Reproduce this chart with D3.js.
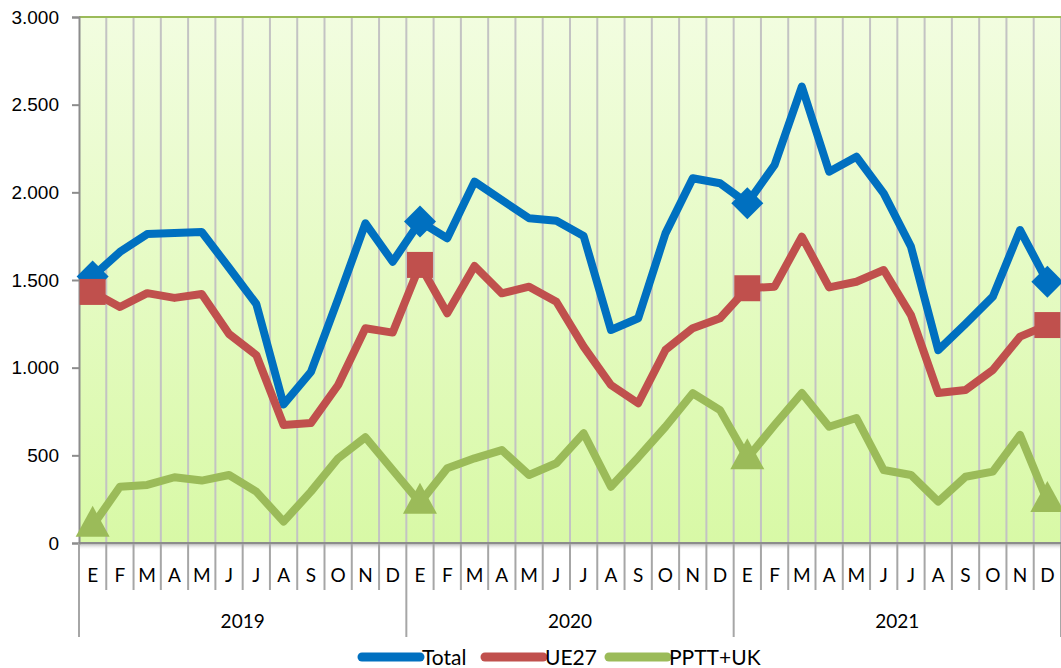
<!DOCTYPE html>
<html>
<head>
<meta charset="utf-8">
<script src="https://cdn.jsdelivr.net/npm/d3@7"></script>
<style>
  body { margin: 0; background: #fff; }
  svg { display: block; font-family: Lato, "Open Sans", sans-serif; }
</style>
</head>
<body>
<svg width="1061" height="668"></svg>
<script>
var years = ["2019", "2020", "2021"];
var months = ["E", "F", "M", "A", "M", "J", "J", "A", "S", "O", "N", "D"];
var yTicks = [0, 500, 1000, 1500, 2000, 2500, 3000];

var total = [1520, 1660, 1762, 1768, 1774, 1570, 1363, 790, 975, 1392, 1823, 1604,
             1833, 1738, 2061, 1956, 1852, 1838, 1751, 1215, 1282, 1766, 2080, 2052,
             1938, 2156, 2603, 2118, 2203, 1994, 1690, 1100, 1250, 1405, 1785, 1490];
var ue27 = [1432, 1346, 1425, 1398, 1420, 1192, 1072, 673, 684, 901, 1225, 1200,
            1586, 1310, 1580, 1424, 1462, 1376, 1120, 901, 797, 1101, 1225, 1282,
            1453, 1462, 1747, 1458, 1490, 1557, 1300, 855, 873, 987, 1177, 1243];
var pptt = [98, 321, 331, 375, 356, 388, 293, 122, 293, 483, 603, 416,
            230, 426, 483, 530, 388, 455, 626, 321, 488, 663, 854, 758,
            483, 673, 855, 663, 713, 416, 388, 236, 378, 407, 616, 240];
var markerIdx = [0, 12, 24, 35];

var series = [
  {name: "Total", values: total, color: "#0070c0", marker: "diamond"},
  {name: "UE27", values: ue27, color: "#c0504d", marker: "square"},
  {name: "PPTT+UK", values: pptt, color: "#9bbb59", marker: "triangle"}
];

var svg = d3.select("svg"),
    left = 79, right = 1061, plotTop = 17, bottom = 543;

var labels = [];
years.forEach(y => months.forEach((m, i) => labels.push(y + "-" + i)));

var x = d3.scaleBand().domain(labels).range([left, right]);
var y = d3.scaleLinear().domain([0, 3000]).range([bottom, plotTop]);
var fmt = d3.formatLocale({decimal: ",", thousands: ".", grouping: [3]}).format(",");

var defs = svg.append("defs");
var grad = defs.append("linearGradient").attr("id", "bg")
    .attr("x1", 0).attr("y1", 0).attr("x2", 0).attr("y2", 1);
grad.append("stop").attr("offset", "0%").attr("stop-color", "#f2fde0");
grad.append("stop").attr("offset", "100%").attr("stop-color", "#d8f9a6");
var sh = defs.append("linearGradient").attr("id", "shadow")
    .attr("x1", 0).attr("y1", 0).attr("x2", 0).attr("y2", 1);
sh.append("stop").attr("offset", "0%").attr("stop-color", "#bbb");
sh.append("stop").attr("offset", "100%").attr("stop-color", "#fff").attr("stop-opacity", 0);
defs.append("clipPath").attr("id", "clip").append("rect")
    .attr("x", left - 20).attr("y", 0).attr("width", right - left + 40).attr("height", bottom + 20);

svg.append("rect").attr("x", left).attr("y", plotTop)
    .attr("width", right - left).attr("height", bottom - plotTop).attr("fill", "url(#bg)");

// vertical gridlines
var step = x.step();
svg.append("g").selectAll("line")
  .data(d3.range(1, 37))
  .enter().append("line")
    .attr("x1", i => left + i * step).attr("x2", i => left + i * step)
    .attr("y1", plotTop).attr("y2", bottom)
    .attr("stroke", "#c3c3c3").attr("stroke-width", 2);

// top border
svg.append("line").attr("x1", left).attr("x2", right).attr("y1", plotTop).attr("y2", plotTop)
    .attr("stroke", "#9bbb59").attr("stroke-width", 2);

// shadow under axis
svg.append("rect").attr("x", left).attr("y", bottom + 1).attr("width", right - left).attr("height", 6)
    .attr("fill", "url(#shadow)");

// y axis
var yAxis = svg.append("g").attr("transform", "translate(" + left + ",0)")
    .call(d3.axisLeft(y).tickValues(yTicks).tickFormat(fmt).tickSize(7).tickPadding(13));
yAxis.select(".domain").attr("stroke", "#8c8c8c").attr("stroke-width", 2);
yAxis.selectAll(".tick line").attr("stroke", "#8c8c8c").attr("stroke-width", 2);
yAxis.selectAll("text").attr("font-size", 19).attr("fill", "#000");

// x axis: month separators and year separators
svg.append("g").selectAll("line")
  .data(d3.range(0, 37))
  .enter().append("line")
    .attr("x1", i => left + i * step).attr("x2", i => left + i * step)
    .attr("y1", bottom).attr("y2", i => i % 12 === 0 ? 637 : 590)
    .attr("stroke", "#a6a6a6").attr("stroke-width", 2);
svg.append("line").attr("x1", left).attr("x2", right).attr("y1", bottom).attr("y2", bottom)
    .attr("stroke", "#8c8c8c").attr("stroke-width", 2);

svg.append("g").selectAll("text")
  .data(labels)
  .enter().append("text")
    .attr("x", d => x(d) + x.bandwidth() / 2)
    .attr("y", 582)
    .attr("text-anchor", "middle")
    .attr("font-size", 19)
    .text((d, i) => months[i % 12]);

svg.append("g").selectAll("text")
  .data(years)
  .enter().append("text")
    .attr("x", (d, i) => left + (i * 12 + 6) * step)
    .attr("y", 628)
    .attr("text-anchor", "middle")
    .attr("font-size", 19)
    .text(d => d);

// lines
var line = d3.line()
    .x((d, i) => x(labels[i]) + x.bandwidth() / 2)
    .y(d => y(d));

var plot = svg.append("g").attr("clip-path", "url(#clip)");
series.forEach(s => {
  plot.append("path")
    .datum(s.values)
    .attr("d", line)
    .attr("fill", "none")
    .attr("stroke", s.color)
    .attr("stroke-width", 8)
    .attr("stroke-linejoin", "round")
    .attr("stroke-linecap", "round");
});

var shapes = {
  diamond: "M0,-16L16,0L0,16L-16,0Z",
  square: "M-13,-13H13V13H-13Z",
  triangle: "M0,-20L17,11H-17Z"
};
series.forEach(s => {
  plot.append("g").selectAll("path")
    .data(markerIdx)
    .enter().append("path")
      .attr("transform", i => "translate(" + (x(labels[i]) + x.bandwidth() / 2) + "," + y(s.values[i]) + ")")
      .attr("d", shapes[s.marker])
      .attr("fill", s.color);
});

// legend
var legendX = [362, 485, 609];
var leg = svg.append("g").selectAll("g")
  .data(series)
  .enter().append("g")
    .attr("transform", (d, i) => "translate(" + legendX[i] + ",657)");
leg.append("line").attr("x1", 0).attr("x2", 58).attr("y1", 0).attr("y2", 0)
    .attr("stroke", d => d.color).attr("stroke-width", 9).attr("stroke-linecap", "round");
leg.append("text").attr("x", 60).attr("y", 8).attr("font-size", 21).text(d => d.name);
</script>
</body>
</html>
